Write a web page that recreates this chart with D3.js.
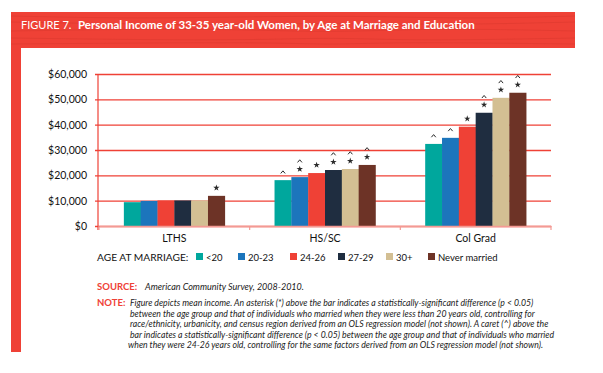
<!DOCTYPE html>
<html>
<head>
<meta charset="utf-8">
<script src="https://cdn.jsdelivr.net/npm/d3@7"></script>
<style>
  body { margin: 0; background: #fff; }
  text { font-family: Lato, "Noto Sans", sans-serif; }
</style>
</head>
<body>
<div id="chart"></div>
<script>
// chart data
const categories = ['LTHS', 'HS/SC', 'Col Grad']
const ageGroups = ['<20', '20-23', '24-26', '27-29', '30+', 'Never married']
const lths = [9400, 9900, 10100, 10100, 10100, 11900]
const hssc = [18100, 19300, 20900, 22100, 22500, 24100]
const colGrad = [32400, 34800, 39200, 44700, 50600, 52600]
// "*" = differs from <20, "^" = differs from 24-26
const lthsMarks = ['', '', '', '', '', '*']
const hsscMarks = ['^', '^*', '*', '^*', '^*', '^*']
const colGradMarks = ['^', '^', '*', '^*', '^*', '^*']
const yTicks = [0, 10000, 20000, 30000, 40000, 50000, 60000]

const title = 'Personal Income of 33-35 year-old Women, by Age at Marriage and Education'
const source = 'American Community Survey, 2008-2010.'
const noteLines = [
  'Figure depicts mean income. An asterisk (*) above the bar indicates a statistically-significant difference (p < 0.05)',
  'between the age group and that of individuals who married when they were less than 20 years old, controlling for',
  'race/ethnicity, urbanicity, and census region derived from an OLS regression model (not shown). A caret (^) above the',
  'bar indicates a statistically-significant difference (p < 0.05) between the age group and that of individuals who married',
  'when they were 24-26 years old, controlling for the same factors derived from an OLS regression model (not shown).'
]

const values = [lths, hssc, colGrad]
const marks = [lthsMarks, hsscMarks, colGradMarks]

const width = 603,
  height = 373
const red = '#EF4136'
const palette = ['#00A79D', '#1C75BC', '#EF4136', '#1F2D40', '#D3BF93', '#6D3326']

const svg = d3.select('#chart')
  .append('svg')
  .attr('width', width)
  .attr('height', height)

// red frame: header band + left stripe
svg.append('rect').attr('x', 11).attr('y', 12).attr('width', 564).attr('height', 36).attr('fill', red)
svg.append('rect').attr('x', 11).attr('y', 48).attr('width', 10).attr('height', 304).attr('fill', red)

// faint wood grain on the header
const grain = d3.line().curve(d3.curveBasis)
const grainRows = [[16, 19, 15], [22, 25, 23], [31, 28, 33], [38, 41, 37], [44, 42, 45]]
grainRows.forEach((r, i) => {
  svg.append('path')
    .attr('d', grain([[11, r[0]], [150 + i * 30, r[1]], [330, r[2]], [470 - i * 20, r[1]], [575, r[0]]]))
    .attr('fill', 'none')
    .attr('stroke', '#D6362C')
    .attr('stroke-width', 0.8)
    .attr('opacity', 0.6)
})

svg.append('text')
  .attr('x', 21).attr('y', 29)
  .attr('fill', '#fff')
  .style('font-size', '11px')
  .text('FIGURE 7.')
svg.append('text')
  .attr('x', 78).attr('y', 29)
  .attr('fill', '#fff')
  .style('font-size', '11.5px')
  .style('font-weight', 'bold')
  .text(title)

// scales
const x0 = d3.scaleBand()
  .domain(categories)
  .range([99, 551])
  .paddingInner(0.33)
  .paddingOuter(0.165)

const x1 = d3.scaleBand()
  .domain(ageGroups)
  .range([0, x0.bandwidth()])

const y = d3.scaleLinear()
  .domain([0, 60000])
  .range([226, 74])

const color = d3.scaleOrdinal().domain(ageGroups).range(palette)

// gridlines + left axis
const yAxis = svg.append('g')
  .attr('transform', 'translate(98,0)')
  .call(d3.axisLeft(y).tickValues(yTicks).tickFormat(d3.format('$,')).tickSize(-453).tickSizeOuter(0))
yAxis.select('.domain').attr('stroke', red).attr('stroke-width', 1.2).attr('d', 'M0,74V230')
yAxis.selectAll('.tick line').attr('stroke', red).attr('stroke-width', 1.3).attr('x1', -3)
yAxis.selectAll('.tick text')
  .attr('x', -11)
  .attr('fill', '#111')
  .style('font-size', '10.5px')

// bars
const groups = svg.selectAll('g.cat')
  .data(categories)
  .enter()
  .append('g')
  .attr('class', 'cat')
  .attr('transform', d => `translate(${x0(d)},0)`)

groups.selectAll('rect')
  .data((d, i) => ageGroups.map((g, j) => ({ g: g, v: values[i][j], m: marks[i][j] })))
  .enter()
  .append('rect')
  .attr('x', d => x1(d.g))
  .attr('y', d => y(d.v))
  .attr('width', x1.bandwidth() + 0.3)
  .attr('height', d => y(0) - y(d.v))
  .attr('fill', d => color(d.g))

// significance markers
const star = d3.symbol(d3.symbolStar).size(13)
groups.each(function (c, i) {
  const g = d3.select(this)
  ageGroups.forEach((a, j) => {
    const m = marks[i][j]
    const cx = x1(a) + x1.bandwidth() / 2
    let top = y(values[i][j]) - 8
    if (m.includes('*')) {
      g.append('path')
        .attr('d', star())
        .attr('transform', `translate(${cx},${top})`)
        .attr('fill', '#2a2a2a')
      top -= 8
    }
    if (m.includes('^')) {
      g.append('path')
        .attr('d', `M${cx - 2.2},${top + 1.3}L${cx},${top - 1.3}L${cx + 2.2},${top + 1.3}`)
        .attr('fill', 'none')
        .attr('stroke', '#2a2a2a')
        .attr('stroke-width', 1)
    }
  })
})

// bottom axis
const xAxis = svg.append('g')
  .attr('transform', 'translate(0,226)')
  .call(d3.axisBottom(x0).tickSize(0).tickSizeOuter(0))
xAxis.select('.domain').attr('stroke', '#F39A94').attr('stroke-width', 1.5)
xAxis.selectAll('.tick text')
  .attr('y', 9)
  .attr('fill', '#111')
  .style('font-size', '10.5px')
const bounds = [x0.range()[0], ...categories.slice(1).map(c => x0(c) - x0.step() * x0.paddingInner() / 2), x0.range()[1]]
xAxis.selectAll('line.bound')
  .data(bounds)
  .enter()
  .append('line')
  .attr('class', 'bound')
  .attr('x1', d => d).attr('x2', d => d)
  .attr('y1', 0).attr('y2', 4)
  .attr('stroke', '#F39A94')
  .attr('stroke-width', 1.2)

// legend
svg.append('text')
  .attr('x', 97).attr('y', 261)
  .attr('fill', '#111')
  .style('font-size', '10.2px')
  .text('AGE AT MARRIAGE:')
const legendX = [196, 238, 290, 338, 386, 428]
const legend = svg.selectAll('g.leg')
  .data(ageGroups)
  .enter()
  .append('g')
  .attr('class', 'leg')
  .attr('transform', (d, i) => `translate(${legendX[i]},253)`)
legend.append('rect')
  .attr('width', 7).attr('height', 7)
  .attr('fill', d => color(d))
legend.append('text')
  .attr('x', 10).attr('y', 7.5)
  .attr('fill', '#111')
  .style('font-size', '9.5px')
  .text(d => d)

// source + note
svg.append('text')
  .attr('x', 97).attr('y', 290)
  .attr('fill', red)
  .style('font-size', '9.5px')
  .style('font-weight', 'bold')
  .text('SOURCE:')
svg.append('text')
  .attr('x', 145).attr('y', 290)
  .attr('fill', '#222')
  .style('font-size', '9px')
  .style('font-style', 'italic')
  .text(source)
svg.append('text')
  .attr('x', 97).attr('y', 306)
  .attr('fill', red)
  .style('font-size', '9.5px')
  .style('font-weight', 'bold')
  .text('NOTE:')
svg.append('g')
  .selectAll('text')
  .data(noteLines)
  .enter()
  .append('text')
  .attr('x', (d, i) => i === 4 ? 128 : 130)
  .attr('y', (d, i) => 306 + i * 10.6)
  .attr('fill', '#222')
  .style('font-size', '8.7px')
  .style('font-style', 'italic')
  .text(d => d)
</script>
</body>
</html>
